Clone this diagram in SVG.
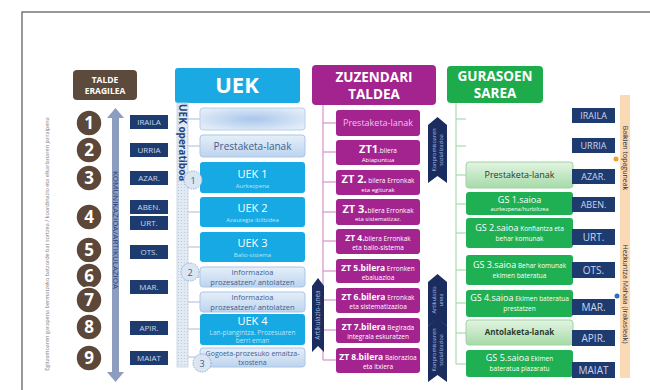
<svg xmlns="http://www.w3.org/2000/svg" width="650" height="390" viewBox="0 0 650 390">
<defs>
<linearGradient id="lb" x1="0" y1="0" x2="0" y2="1"><stop offset="0" stop-color="#e6eff9"/><stop offset="1" stop-color="#bcd4ee"/></linearGradient>
<radialGradient id="blank" cx="0.5" cy="0.5" r="0.6"><stop offset="0" stop-color="#a9c6ec"/><stop offset="1" stop-color="#e3edf8"/></radialGradient>
<linearGradient id="lg" x1="0" y1="0" x2="0" y2="1"><stop offset="0" stop-color="#e3f4e3"/><stop offset="1" stop-color="#a6dba8"/></linearGradient>
<pattern id="dots" width="3" height="3" patternUnits="userSpaceOnUse"><rect width="3" height="3" fill="#e2ebf4"/><circle cx="1.5" cy="1.5" r="0.6" fill="#b9c9dc"/></pattern>
</defs>
<style>
text{font-family:"Open Sans","Liberation Sans",sans-serif;text-anchor:middle}
.hd{fill:#fff;font-weight:bold}
.num{fill:#5c4738;stroke:#fff;stroke-width:1.5}
.numt{fill:#fff;font-size:17px;font-weight:bold}
.mon{fill:#1e3b70}
.mont{fill:#c9d5ec;font-size:8px}
.lbx{fill:url(#lb);stroke:#a9c6e8;stroke-width:1}
.bbx{fill:#16a9e4}
.lbt{fill:#3f5f8f;font-size:7.5px}
.bt{fill:#fff;font-size:11px}
.bs{fill:#bfe6f8;font-size:6px}
.zbx{fill:#a3238f}
.zt{fill:#fff;font-size:6.5px}
.zb{font-weight:bold;font-size:11px}
.gbx{fill:#1eb052}
.lgbx{fill:url(#lg);stroke:#9fd4a3}
.gt{fill:#fff;font-size:6.5px}
.gb{font-size:9px}
.ban{fill:#1b2d5e}
.bant{fill:#a9bde3;font-size:5.5px}
.ucirc{fill:#dbe6f3;stroke:#92acd2;stroke-dasharray:1.5 1}
.uct{fill:#3f5f8f;font-size:9px}
</style>
<rect x="22" y="12" width="700" height="450" fill="none" stroke="#555" stroke-width="1.2"/>

<g id="left-text"><text transform="translate(49,244) rotate(-90)" style="font-size:5.5px;fill:#7a7a7a">Egitasmoaren garapena bermatzeko batzorde bat sortzea / koordinazio eta elkarlanaren jarraipena</text></g>

<g id="talde"><rect x="73" y="70" width="64" height="30" rx="4" fill="#5c4a3d"/><text class="hd" x="105" y="83" style="font-size:8.5px">TALDE</text><text class="hd" x="105" y="94" style="font-size:8.5px">ERAGILEA</text></g>

<g id="numbers">
<circle class="num" cx="89" cy="123" r="13"/><text class="numt" x="89" y="129">1</text>
<circle class="num" cx="89" cy="150" r="13"/><text class="numt" x="89" y="156">2</text>
<circle class="num" cx="89" cy="178" r="13"/><text class="numt" x="89" y="184">3</text>
<circle class="num" cx="89" cy="217" r="13"/><text class="numt" x="89" y="223">4</text>
<circle class="num" cx="89" cy="250" r="13"/><text class="numt" x="89" y="256">5</text>
<circle class="num" cx="89" cy="276" r="13"/><text class="numt" x="89" y="282">6</text>
<circle class="num" cx="89" cy="300" r="13"/><text class="numt" x="89" y="306">7</text>
<circle class="num" cx="89" cy="327" r="13"/><text class="numt" x="89" y="333">8</text>
<circle class="num" cx="89" cy="358" r="13"/><text class="numt" x="89" y="364">9</text>
</g>

<g id="komunikazioa">
<polygon points="115.5,108 124,118 119,118 119,372 124,372 115.5,382 107,372 112,372 112,118 107,118" fill="#8d9dc0"/>
<text transform="translate(113,230) rotate(90)" style="font-size:8px;fill:#24407a">KOMUNIKAZIOA/ARTIKULAZIOA</text>
</g>

<g id="months-left">
<rect class="mon" x="130" y="115" width="38" height="14"/><text class="mont" x="149" y="125">IRAILA</text>
<rect class="mon" x="130" y="143" width="38" height="14"/><text class="mont" x="149" y="153">URRIA</text>
<rect class="mon" x="130" y="171" width="38" height="14"/><text class="mont" x="149" y="181">AZAR.</text>
<rect class="mon" x="130" y="200" width="38" height="14"/><text class="mont" x="149" y="210">ABEN.</text>
<rect class="mon" x="130" y="216" width="38" height="14"/><text class="mont" x="149" y="226">URT.</text>
<rect class="mon" x="130" y="245" width="38" height="14"/><text class="mont" x="149" y="255">OTS.</text>
<rect class="mon" x="130" y="280" width="38" height="14"/><text class="mont" x="149" y="290">MAR.</text>
<rect class="mon" x="130" y="321" width="38" height="14"/><text class="mont" x="149" y="331">APIR.</text>
<rect class="mon" x="130" y="351" width="38" height="14"/><text class="mont" x="149" y="361">MAIAT</text>
</g>

<g id="connectors">
<g stroke="#a9bdd6" stroke-width="1">
<line x1="188" y1="119" x2="200" y2="119"/><line x1="188" y1="146" x2="200" y2="146"/>
<line x1="188" y1="177" x2="200" y2="177"/><line x1="188" y1="212" x2="200" y2="212"/>
<line x1="188" y1="247" x2="200" y2="247"/><line x1="188" y1="277" x2="200" y2="277"/>
<line x1="188" y1="302" x2="200" y2="302"/><line x1="188" y1="329" x2="200" y2="329"/>
<line x1="188" y1="357" x2="200" y2="357"/>
</g>
<g stroke="#d892cb" stroke-width="1.2">
<line x1="323" y1="105" x2="323" y2="360"/>
<line x1="323" y1="123" x2="336" y2="123"/><line x1="323" y1="152" x2="336" y2="152"/>
<line x1="323" y1="182" x2="336" y2="182"/><line x1="323" y1="212" x2="336" y2="212"/>
<line x1="323" y1="241" x2="336" y2="241"/><line x1="323" y1="271" x2="336" y2="271"/>
<line x1="323" y1="300" x2="336" y2="300"/><line x1="323" y1="330" x2="336" y2="330"/>
<line x1="323" y1="360" x2="336" y2="360"/>
</g>
<g stroke="#a8dbb0" stroke-width="1.2">
<line x1="456" y1="103" x2="456" y2="364"/>
<line x1="456" y1="119" x2="466" y2="119"/><line x1="456" y1="146" x2="466" y2="146"/>
<line x1="456" y1="175" x2="466" y2="175"/><line x1="456" y1="204" x2="466" y2="204"/>
<line x1="456" y1="233" x2="466" y2="233"/><line x1="456" y1="270" x2="466" y2="270"/>
<line x1="456" y1="303" x2="466" y2="303"/><line x1="456" y1="333" x2="466" y2="333"/>
<line x1="456" y1="364" x2="466" y2="364"/>
</g>
</g>

<g id="uek">
<rect x="175" y="68" width="125" height="35" rx="3" fill="#1aa9e3"/>
<text class="hd" x="237" y="93" style="font-size:22px">UEK</text>
<rect x="177" y="103" width="11" height="264" fill="url(#dots)" stroke="#c5d3e3" stroke-width="0.8"/>
<text transform="translate(179,104) rotate(90)" style="font-size:10px;font-weight:bold;fill:#27457e;text-anchor:start">UEK operatiboa</text>
</g>

<g id="uek-boxes">
<rect x="200" y="108" width="105" height="22" rx="3" fill="url(#blank)" stroke="#b8d0ec"/>
<rect class="lbx" x="200" y="135" width="105" height="22" rx="3"/><text class="lbt" x="252.5" y="149.5" style="font-size:10px">Prestaketa-lanak</text>
<rect class="bbx" x="200" y="162" width="105" height="31" rx="3"/><text class="bt" x="252.5" y="178">UEK 1</text><text class="bs" x="252.5" y="188">Aurkezpena</text>
<rect class="bbx" x="200" y="197" width="105" height="30" rx="3"/><text class="bt" x="252.5" y="212">UEK 2</text><text class="bs" x="252.5" y="222">Azautegia ibilbidea</text>
<rect class="bbx" x="200" y="232" width="105" height="30" rx="3"/><text class="bt" x="252.5" y="247">UEK 3</text><text class="bs" x="252.5" y="257">Balio-sistema</text>
<rect class="lbx" x="200" y="267" width="105" height="20" rx="3"/><text class="lbt" x="252.5" y="275">Informazioa</text><text class="lbt" x="252.5" y="284.5">prozesatzen/ antolatzen</text>
<rect class="lbx" x="200" y="292" width="105" height="20" rx="3"/><text class="lbt" x="252.5" y="300">Informazioa</text><text class="lbt" x="252.5" y="309.5">prozesatzen/ antolatzen</text>
<rect class="bbx" x="200" y="314" width="105" height="31" rx="3"/><text class="bt" x="252.5" y="325">UEK 4</text><text class="bs" x="252.5" y="335" style="font-size:6.5px">Lan-plangintza. Prozesuaren</text><text class="bs" x="252.5" y="343" style="font-size:6.5px">berri eman</text>
<rect class="lbx" x="200" y="348" width="105" height="19" rx="3"/><text class="lbt" x="252.5" y="356" style="font-size:7px">Gogoeta-prozesuko emaitza-</text><text class="lbt" x="252.5" y="364.5" style="font-size:7px">txostena</text>
</g>

<g id="uek-steps">
<circle class="ucirc" cx="193" cy="180" r="9"/><text class="uct" x="193" y="183.5">1</text>
<circle class="ucirc" cx="190" cy="272" r="9"/><text class="uct" x="190" y="275.5">2</text>
<circle class="ucirc" cx="202" cy="363" r="9"/><text class="uct" x="202" y="366.5">3</text>
</g>

<g id="zt">
<rect x="312" y="65" width="124" height="40" rx="4" fill="#a3238f"/>
<text class="hd" x="374" y="82" style="font-size:13.5px">ZUZENDARI</text>
<text class="hd" x="374" y="99" style="font-size:13.5px">TALDEA</text>
</g>

<g id="zt-boxes">
<rect class="zbx" x="336" y="110" width="84" height="26" rx="3"/><text x="378" y="126" style="font-size:9px;fill:#f0c4e8">Prestaketa-lanak</text>
<rect class="zbx" x="336" y="140" width="84" height="25" rx="3"/><text class="zt" x="378" y="152.5"><tspan class="zb">ZT1</tspan>.bilera</text><text class="zt" x="378" y="162" style="font-size:6px">Abiapuntua</text>
<rect class="zbx" x="336" y="170" width="84" height="25" rx="3"/><text class="zt" x="378" y="183"><tspan class="zb">ZT 2.</tspan> bilera Erronkak</text><text class="zt" x="378" y="191.5" style="font-size:6px">eta egiturak</text>
<rect class="zbx" x="336" y="199" width="84" height="26" rx="3"/><text class="zt" x="378" y="212.5"><tspan class="zb">ZT 3.</tspan>bilera Erronkak</text><text class="zt" x="378" y="221" style="font-size:6px">eta sistematizaz.</text>
<rect class="zbx" x="336" y="229" width="84" height="25" rx="3"/><text class="zt" x="378" y="241"><tspan style="font-weight:bold;font-size:8.5px">ZT 4.</tspan>bilera Erronkak</text><text class="zt" x="378" y="250">eta balio-sistema</text>
<rect class="zbx" x="336" y="259" width="84" height="24" rx="3"/><text class="zt" x="378" y="271"><tspan style="font-weight:bold;font-size:8.5px">ZT 5.bilera</tspan> Erronken</text><text class="zt" x="378" y="280">ebaluazioa</text>
<rect class="zbx" x="336" y="288" width="84" height="25" rx="3"/><text class="zt" x="378" y="300"><tspan style="font-weight:bold;font-size:8.5px">ZT 6.bilera</tspan> Erronkak</text><text class="zt" x="378" y="309">eta sistematizazioa</text>
<rect class="zbx" x="336" y="318" width="84" height="25" rx="3"/><text class="zt" x="378" y="330"><tspan style="font-weight:bold;font-size:8.5px">ZT 7.bilera</tspan> Begirada</text><text class="zt" x="378" y="339">integrala eskuratzen</text>
<rect class="zbx" x="336" y="348" width="84" height="25" rx="3"/><text class="zt" x="378" y="360"><tspan style="font-weight:bold;font-size:8.5px">ZT 8.bilera</tspan> Balorazioa</text><text class="zt" x="378" y="369">eta itxiera</text>
</g>

<g id="banners">
<path class="ban" d="M312,286 L318,278 L324,286 L324,352 L318,346 L312,352 Z"/>
<text class="bant" transform="translate(320,315) rotate(-90)" style="font-size:6.5px">Artikulazio-unea</text>
<path class="ban" d="M428,125 L437.5,117 L447,125 L447,183 L437.5,176 L428,183 Z"/>
<text class="bant" transform="translate(436,150) rotate(-90)">Konpromisoaren</text>
<text class="bant" transform="translate(442.5,150) rotate(-90)">sozializazioa</text>
<path class="ban" d="M428,282 L437.5,274 L447,282 L447,326 L437.5,319 L428,326 Z"/>
<text class="bant" transform="translate(436,300) rotate(-90)">Artikulazio</text>
<text class="bant" transform="translate(442.5,300) rotate(-90)">unea</text>
<path class="ban" d="M428,326 L437.5,318 L447,326 L447,382 L437.5,375 L428,382 Z"/>
<text class="bant" transform="translate(436,350) rotate(-90)">Konpromisoaren</text>
<text class="bant" transform="translate(442.5,350) rotate(-90)">sozializazioa</text>
</g>

<g id="gs">
<rect x="447" y="66" width="96" height="37" rx="4" fill="#1eab4c"/>
<text class="hd" x="495" y="81" style="font-size:13.5px">GURASOEN</text>
<text class="hd" x="495" y="98" style="font-size:13.5px">SAREA</text>
</g>

<g id="gs-boxes">
<rect class="lgbx" x="466" y="162" width="107" height="26" rx="3"/><text x="519.5" y="178" style="font-size:9px;fill:#2a3a2a">Prestaketa-lanak</text>
<rect class="gbx" x="466" y="192" width="107" height="23" rx="3"/><text class="gt gb" x="519.5" y="202.5">GS 1.saioa</text><text class="gt" x="519.5" y="211" style="font-size:5.5px">aurkezpena/hurbiltzea</text>
<rect class="gbx" x="466" y="218" width="107" height="30" rx="3"/><text class="gt" x="519.5" y="231"><tspan class="gb">GS 2.saioa</tspan> Konfiantza eta</text><text class="gt" x="519.5" y="241">behar komunak</text>
<rect class="gbx" x="466" y="255" width="107" height="30" rx="3"/><text class="gt" x="519.5" y="268"><tspan class="gb">GS 3.saioa</tspan> Behar komunak</text><text class="gt" x="519.5" y="278">ekimen bateratua</text>
<rect class="gbx" x="466" y="290" width="107" height="27" rx="3"/><text class="gt" x="519.5" y="301"><tspan class="gb">GS 4.saioa</tspan> Ekimen bateratua</text><text class="gt" x="519.5" y="310.5">prestatzen</text>
<rect class="lgbx" x="466" y="320" width="107" height="25" rx="3"/><text x="519.5" y="335" style="font-size:8px;font-weight:bold;fill:#2a3a2a">Antolaketa-lanak</text>
<rect class="gbx" x="466" y="350" width="107" height="27" rx="3"/><text class="gt" x="519.5" y="361"><tspan class="gb">GS 5.saioa</tspan> Ekimen</text><text class="gt" x="519.5" y="371">bateratua plazaratu</text>
</g>

<g id="months-right">
<rect class="mon" x="572" y="108" width="43" height="15"/><text class="mont" x="593.5" y="119" style="font-size:9px">IRAILA</text>
<rect class="mon" x="572" y="138" width="43" height="15"/><text class="mont" x="593.5" y="149" style="font-size:9px">URRIA</text>
<rect class="mon" x="572" y="169" width="43" height="15"/><text class="mont" x="593.5" y="180" style="font-size:9px">AZAR.</text>
<rect class="mon" x="572" y="197" width="43" height="15"/><text class="mont" x="593.5" y="208" style="font-size:9px">ABEN.</text>
<rect class="mon" x="572" y="229" width="43" height="16"/><text class="mont" x="593.5" y="241" style="font-size:10px">URT.</text>
<rect class="mon" x="572" y="262" width="43" height="16"/><text class="mont" x="593.5" y="274" style="font-size:10px">OTS.</text>
<rect class="mon" x="572" y="299" width="43" height="16"/><text class="mont" x="593.5" y="311" style="font-size:10px">MAR.</text>
<rect class="mon" x="572" y="330" width="43" height="16"/><text class="mont" x="593.5" y="342" style="font-size:10px">APIR.</text>
<rect class="mon" x="572" y="362" width="43" height="16"/><text class="mont" x="593.5" y="374" style="font-size:10px">MAIAT</text>
</g>

<g id="timeline-right">
<rect x="620" y="95" width="10" height="283" fill="#fad9b5"/>
<text transform="translate(622.5,158) rotate(90)" style="font-size:7px;fill:#333">Baikien topaguneak</text>
<text transform="translate(622.5,294) rotate(90)" style="font-size:7px;fill:#333">Hezkuntza Mahaia (Irakasleak)</text>
<circle cx="616" cy="159" r="2.5" fill="#f0a030"/>
<circle cx="617" cy="296" r="2.5" fill="#2c6fc0"/>
</g>
</svg>
